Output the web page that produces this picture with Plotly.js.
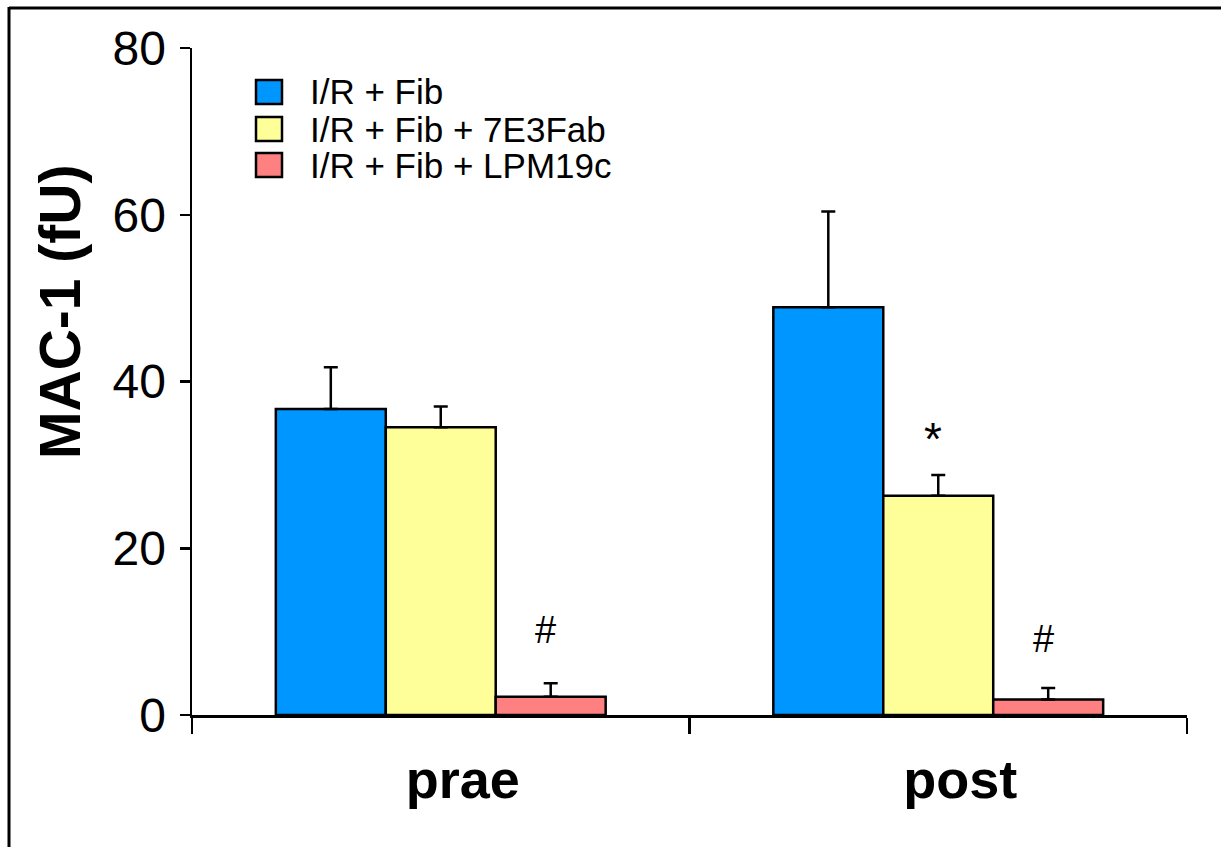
<!DOCTYPE html>
<html>
<head>
<meta charset="utf-8">
<script src="https://cdn.plot.ly/plotly-3.0.1.min.js"></script>
<style>
  html, body { margin: 0; padding: 0; background: #ffffff; }
  #chart { width: 1221px; height: 847px; }
</style>
</head>
<body>
<div id="chart"></div>
<script>
// ---- data ----
var categories = ['prae', 'post'];
var seriesNames = ['I/R + Fib', 'I/R + Fib + 7E3Fab', 'I/R + Fib + LPM19c'];
var fibValues = [36.7, 48.9];
var fibErrors = [5.0, 11.5];
var fabValues = [34.5, 26.3];
var fabErrors = [2.5, 2.5];
var lpmValues = [2.2, 1.85];
var lpmErrors = [1.6, 1.4];
var fibMarks = ['', ''];
var fabMarks = ['', '*'];
var lpmMarks = ['#', '#'];
var yTickVals = [0, 20, 40, 60, 80];
var yTitle = 'MAC-1 (fU)';

// ---- styles ----
var colors = ['#0096ff', '#ffff99', '#ff8080'];
var W = 1221, H = 847;
var M = {l: 192, r: 34, t: 48, b: 132};
var plotW = W - M.l - M.r, plotH = H - M.t - M.b;
function px2x(px) { return (px - M.l) / plotW; }
function py2y(py) { return (M.t + plotH - py) / plotH; }

var allValues = [fibValues, fabValues, lpmValues];
var allErrors = [fibErrors, fabErrors, lpmErrors];
var allMarks = [fibMarks, fabMarks, lpmMarks];

var traces = [];
for (var s = 0; s < 3; s++) {
  traces.push({
    type: 'bar',
    name: seriesNames[s],
    x: categories,
    y: allValues[s],
    marker: {color: colors[s], line: {color: '#000000', width: 2.5}},
    error_y: {
      type: 'data', array: allErrors[s],
      arrayminus: allValues[s].map(function () { return 0; }),
      symmetric: false, color: '#000000', thickness: 2.5, width: 7
    },
    showlegend: false,
    hoverinfo: 'skip'
  });
}

var bargap = 0.337;
var barW = (1 - bargap) / 3;
var annotations = [];
var shapes = [];

// significance marks
for (var s2 = 0; s2 < 3; s2++) {
  for (var c = 0; c < categories.length; c++) {
    var mk = allMarks[s2][c];
    if (!mk) continue;
    annotations.push({
      xref: 'x', yref: 'y',
      x: c + (s2 - 1) * barW,
      y: allValues[s2][c] + allErrors[s2][c],
      text: mk, showarrow: false,
      xanchor: 'center', yanchor: 'bottom',
      yshift: mk === '*' ? 8 : (c === 0 ? 30 : 26),
      xshift: -5,
      font: {family: 'Liberation Sans, Arial, sans-serif', size: mk === '*' ? 46 : 38, color: '#000000'}
    });
  }
}

// manual legend
var legendRows = [92, 129, 165];
for (var k = 0; k < 3; k++) {
  shapes.push({
    type: 'rect', xref: 'paper', yref: 'paper',
    x0: px2x(256), x1: px2x(282),
    y0: py2y(legendRows[k] + 12), y1: py2y(legendRows[k] - 12),
    fillcolor: colors[k], line: {color: '#000000', width: 2.5}
  });
  annotations.push({
    xref: 'paper', yref: 'paper',
    x: px2x(308), y: py2y(legendRows[k]),
    xanchor: 'left', yanchor: 'middle',
    text: seriesNames[k], showarrow: false,
    font: {family: 'Liberation Sans, Arial, sans-serif', size: 35, color: '#000000'}
  });
}

// y-axis title
annotations.push({
  xref: 'paper', yref: 'paper',
  x: px2x(60), y: py2y(312),
  xanchor: 'center', yanchor: 'middle',
  text: yTitle, textangle: -90, showarrow: false,
  font: {family: 'Liberation Sans, Arial, sans-serif', size: 57, color: '#000000', weight: 'bold'}
});

// outer frame (cropped at right and bottom)
shapes.push({type: 'line', xref: 'paper', yref: 'paper',
  x0: px2x(9), x1: px2x(1240), y0: py2y(8), y1: py2y(8),
  line: {color: '#000000', width: 3}});
shapes.push({type: 'line', xref: 'paper', yref: 'paper',
  x0: px2x(9), x1: px2x(9), y0: py2y(7), y1: py2y(870),
  line: {color: '#000000', width: 3}});

var layout = {
  width: W, height: H,
  margin: {l: M.l, r: M.r, t: M.t, b: M.b, pad: 0},
  paper_bgcolor: '#ffffff', plot_bgcolor: '#ffffff',
  barmode: 'group', bargap: bargap, bargroupgap: 0,
  showlegend: false,
  xaxis: {
    type: 'category', showline: true, linecolor: '#000000', linewidth: 2.5,
    ticks: 'outside', tickson: 'boundaries', ticklen: 16, tickwidth: 2.5, tickcolor: '#000000',
    showgrid: false, zeroline: false,
    ticklabelshift: 22, ticklabelstandoff: 16,
    tickfont: {family: 'Liberation Sans, Arial, sans-serif', size: 54, color: '#000000', weight: 'bold'}
  },
  yaxis: {
    range: [0, 80], tickvals: yTickVals, ticktext: yTickVals.map(String),
    showline: true, linecolor: '#000000', linewidth: 2.5,
    ticks: 'outside', ticklen: 10, tickwidth: 2.5, tickcolor: '#000000',
    showgrid: false, zeroline: false,
    ticklabelstandoff: 4,
    tickfont: {family: 'Liberation Sans, Arial, sans-serif', size: 48, color: '#000000'}
  },
  annotations: annotations,
  shapes: shapes
};

Plotly.newPlot('chart', traces, layout, {displayModeBar: false, staticPlot: true});
</script>
</body>
</html>
